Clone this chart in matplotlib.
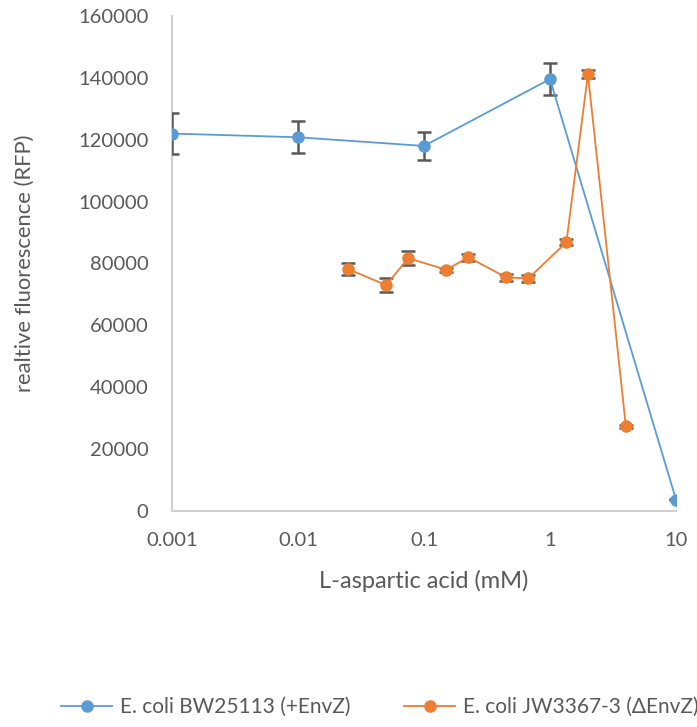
import matplotlib
matplotlib.use("Agg")
import matplotlib.pyplot as plt
import numpy as np

# data
conc_bw = [0.001, 0.01, 0.1, 1, 10]
rfp_bw = [122000, 120800, 118000, 139600, 3700]
err_bw = [6500, 5200, 4600, 5100, 300]

conc_jw = [0.025, 0.05, 0.075, 0.15, 0.225, 0.45, 0.675, 1.35, 2, 4]
rfp_jw = [78200, 73000, 81700, 78000, 82000, 75500, 75200, 86900, 141200, 27400]
err_jw = [2000, 2300, 2300, 700, 1200, 1000, 1200, 900, 1400, 500]

label_bw = "E. coli BW25113 (+EnvZ)"
label_jw = "E. coli JW3367-3 (\u0394EnvZ)"
x_ticks = [0.001, 0.01, 0.1, 1, 10]
x_ticklabels = ["0.001", "0.01", "0.1", "1", "10"]
y_ticks = np.arange(0, 160001, 20000)

blue = "#5B9BD5"
orange = "#ED7D31"
grey = "#595959"

plt.rcParams['font.family'] = ['Lato', 'DejaVu Sans']

fig = plt.figure(figsize=(6.97, 7.27), dpi=100)
ax = fig.add_axes([172/697, 1 - 511/727, (676 - 172)/697, (511 - 16)/727])

ax.errorbar(conc_bw, rfp_bw, yerr=err_bw, color=blue, lw=1.3, marker='o', ms=8,
            ecolor=grey, elinewidth=1.8, capsize=5, capthick=1.8, label=label_bw, zorder=3)
ax.errorbar(conc_jw, rfp_jw, yerr=err_jw, color=orange, lw=1.3, marker='o', ms=8,
            ecolor=grey, elinewidth=1.8, capsize=5, capthick=1.8, label=label_jw, zorder=3)

ax.set_xscale('log')
ax.set_xlim(0.001, 10)
ax.set_ylim(0, 160000)
ax.set_xticks(x_ticks)
ax.set_xticklabels(x_ticklabels)
ax.minorticks_off()
ax.set_yticks(y_ticks)
ax.set_yticklabels([str(v) for v in y_ticks])
ax.tick_params(length=0, labelsize=14.5, colors=grey)
ax.tick_params(axis='y', pad=17)
ax.tick_params(axis='x', pad=15)

for s in ['top', 'right']:
    ax.spines[s].set_visible(False)
for s in ['left', 'bottom']:
    ax.spines[s].set_color('#d0d0d0')
    ax.spines[s].set_linewidth(1.5)

ax.set_xlabel("L-aspartic acid (mM)", fontsize=17, color=grey, labelpad=15)
ax.set_ylabel("realtive fluorescence (RFP)", fontsize=15.8, color=grey, labelpad=31)

handles, labels = ax.get_legend_handles_labels()
handles = [h[0] for h in handles]
fig.legend(handles, labels, loc='center', bbox_to_anchor=(0.545, 1 - 707/727), ncol=2,
           frameon=False, fontsize=15, labelcolor=grey, handlelength=2.45, columnspacing=2.6,
           handletextpad=0.35)

fig.savefig("out.png", dpi=100)
